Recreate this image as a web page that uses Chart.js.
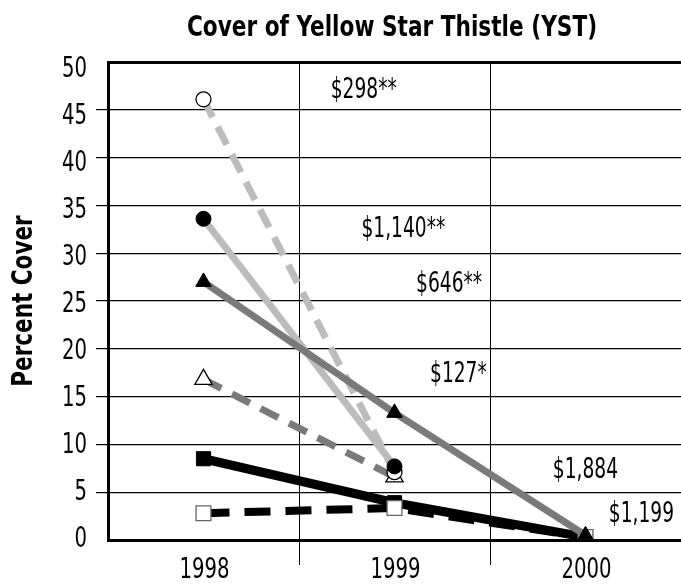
<!DOCTYPE html>
<html>
<head>
<meta charset="utf-8">
<script src="https://cdn.jsdelivr.net/npm/chart.js@4.4.0/dist/chart.umd.min.js"></script>
<style>
  html, body { margin: 0; padding: 0; background: #fff; overflow: hidden; }
  canvas { display: block; }
</style>
</head>
<body>
<canvas class="my-chart" width="681" height="584"></canvas>
<script>
// values
const years = ['1998', '1999', '2000'];
const filledTriangle = [27, 13.3, 0.5];
const filledCircle = [33.6, 7.7, null];
const openCircle = [46.1, 7.1, null];
const openTriangle = [16.8, 6.6, null];
const openSquare = [2.8, 3.35, 0.3];
const filledSquare = [8.5, 3.9, 0.3];

const yTicks = [0, 5, 10, 15, 20, 25, 30, 35, 40, 45, 50];

// cost labels, anchored in data units (category index, percent)
const costLabels = ['$298**', '$1,140**', '$646**', '$127*', '$1,884', '$1,199'];
const costX = [0.666, 0.827, 1.113, 1.186, 1.829, 2.122];
const costY = [46.2, 31.7, 25.9, 16.5, 6.5, 1.9];

const FONT = "'DejaVu Sans Condensed', 'DejaVu Sans', sans-serif";
const LIGHT = '#bcbcbc';
const DARK = '#7a7a7a';

const data = {
    labels: years,
    datasets: [
        {
            label: 'filled triangle',
            data: filledTriangle,
            borderColor: DARK,
            borderWidth: 7,
            pointStyle: 'triangle',
            pointRadius: 9,
            pointBackgroundColor: '#000',
            pointBorderColor: '#000',
            pointBorderWidth: 1,
        },
        {
            label: 'filled circle',
            data: filledCircle,
            borderColor: LIGHT,
            borderWidth: 7,
            pointStyle: 'circle',
            pointRadius: 7.5,
            pointBackgroundColor: '#000',
            pointBorderColor: '#000',
            pointBorderWidth: 1,
        },
        {
            label: 'open circle',
            data: openCircle,
            borderColor: LIGHT,
            borderWidth: 7,
            borderDash: [20, 11],
            pointStyle: 'circle',
            pointRadius: 7.5,
            pointBackgroundColor: '#fff',
            pointBorderColor: '#000',
            pointBorderWidth: 1.3,
        },
        {
            label: 'open triangle',
            data: openTriangle,
            borderColor: DARK,
            borderWidth: 7,
            borderDash: [20, 12],
            pointStyle: 'triangle',
            pointRadius: 10,
            pointBackgroundColor: '#fff',
            pointBorderColor: '#000',
            pointBorderWidth: 1.3,
        },
        {
            label: 'open square',
            data: openSquare,
            borderColor: '#000',
            borderWidth: 8,
            borderDash: [26, 15],
            pointStyle: 'rect',
            pointRadius: 10.5,
            pointBackgroundColor: '#fff',
            pointBorderColor: '#666',
            pointBorderWidth: 1.3,
        },
        {
            label: 'filled square',
            data: filledSquare,
            borderColor: '#000',
            borderWidth: 9,
            pointStyle: 'rect',
            pointRadius: 10,
            pointBackgroundColor: '#000',
            pointBorderColor: '#000',
            pointBorderWidth: 1,
        }
    ],
}

// the original face is a narrow one, so squeeze DejaVu Condensed sideways
const squeezed = (ctx, txt, x, y, font, sx, align, rot) => {
    ctx.save();
    ctx.translate(x, y);
    if (rot) ctx.rotate(rot);
    ctx.scale(sx, 1);
    ctx.font = font;
    ctx.textAlign = align;
    ctx.textBaseline = 'alphabetic';
    ctx.fillText(txt, 0, 0);
    ctx.restore();
}

const textPlugin = {
    id: 'textPlugin',
    afterDraw(chart) {
        const { ctx, chartArea, scales } = chart;
        const x = scales.x, y = scales.y;
        ctx.fillStyle = '#000';
        const reg = "28px " + FONT;
        const bold = "bold 29px " + FONT;

        // y tick labels (printed a little squeezed towards the middle)
        y.ticks.forEach(t => {
            const py = y.getPixelForValue(0.31 + t.value * 0.9834) + 10;
            squeezed(ctx, String(t.value), y.right - 21, py, reg, 0.78, 'right');
        });
        // x tick labels
        x.ticks.forEach((t, i) => {
            squeezed(ctx, years[i], x.getPixelForTick(i) + 1, chartArea.bottom + 38, reg, 0.78, 'center');
        });
        // cost labels
        costLabels.forEach((txt, i) => {
            squeezed(ctx, txt, x.getPixelForValue(costX[i]), y.getPixelForValue(costY[i]), reg, 0.74, 'left');
        });
        // titles
        squeezed(ctx, 'Cover of Yellow Star Thistle (YST)', 392, 36, bold, 0.83, 'center');
        squeezed(ctx, 'Percent Cover', 32, (chartArea.top + chartArea.bottom) / 2, bold, 0.825, 'center', -Math.PI / 2);
    }
}

const config = {
    type: 'line',
    data: data,
    plugins: [textPlugin],
    options: {
        responsive: false,
        animation: false,
        layout: {
            autoPadding: false,
            // plot frame runs a few pixels past the right edge of the picture
            padding: { top: 62, right: -4, left: 0, bottom: 0 }
        },
        datasets: {
            line: { tension: 0, fill: false, spanGaps: false, borderCapStyle: 'butt' }
        },
        scales: {
            x: {
                type: 'category',
                offset: true,
                afterFit: (scale) => { scale.height = 44; },
                grid: {
                    offset: true,
                    color: '#000',
                    lineWidth: 1,
                    tickLength: 25,
                    tickColor: (c) => c.index === 0 ? 'rgba(0,0,0,0)' : '#000',
                    tickWidth: 1,
                },
                border: { color: '#000', width: 3 },
                ticks: { display: false }
            },
            y: {
                min: 0,
                max: 50,
                afterFit: (scale) => { scale.width = 108; },
                afterBuildTicks: (scale) => { scale.ticks = yTicks.map(v => ({ value: v })); },
                grid: {
                    color: '#000',
                    lineWidth: (c) => c.tick && c.tick.value === 50 ? 3 : 1.2,
                    tickLength: 12,
                    tickColor: (c) => c.tick && (c.tick.value === 50 || c.tick.value === 0) ? 'rgba(0,0,0,0)' : '#000',
                    tickWidth: 1.2,
                },
                border: { color: '#000', width: 3 },
                ticks: { display: false },
                title: { display: false }
            }
        },
        plugins: {
            legend: { display: false },
            tooltip: { enabled: false },
            title: { display: false }
        }
    }
}

const myChart = document.querySelector('.my-chart');
const chart = new Chart(myChart, config);
</script>
</body>
</html>
